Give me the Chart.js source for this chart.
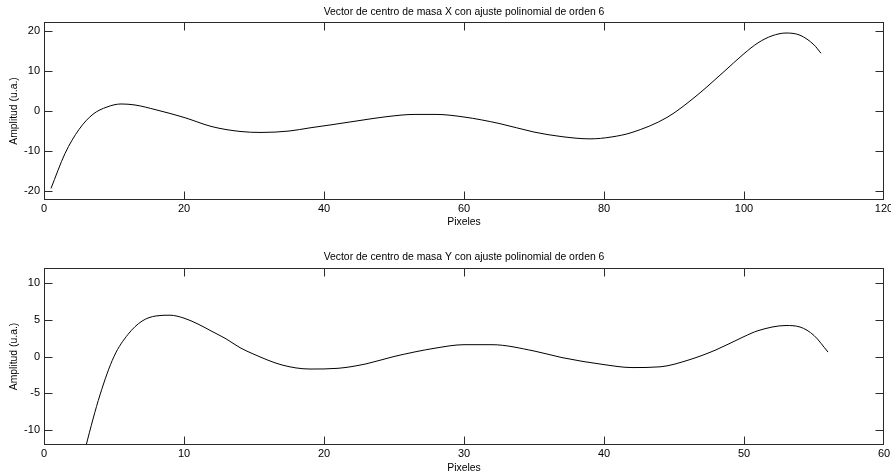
<!DOCTYPE html>
<html>
<head>
<meta charset="utf-8">
<script src="https://cdn.jsdelivr.net/npm/chart.js@4/dist/chart.umd.min.js"></script>
<style>
  html, body { margin: 0; padding: 0; background: #fff; }
  #wrap { position: relative; width: 891px; height: 474px; }
  .pane { position: absolute; left: 0; width: 891px; height: 237px; }
</style>
</head>
<body>
<div id="wrap">
  <div class="pane" style="top:0"><canvas id="chartX" width="891" height="237"></canvas></div>
  <div class="pane" style="top:237px"><canvas id="chartY" width="891" height="237"></canvas></div>
</div>
<script>
// Centre-of-mass vector X, 6th order polynomial fit
const pixelX = [1, 3, 5, 7, 9, 11, 13, 16, 20, 24, 28, 31, 35, 38, 41, 45, 49, 53, 56, 60,
                65, 70, 74, 78, 81, 84, 89, 93, 97, 100, 102, 104, 106, 108, 110, 111];
const amplitudeX = [-19.3, -10.6, -4.6, -0.8, 1.0, 1.75, 1.5, 0.3, -1.6, -3.9, -5.1, -5.35, -5.0, -4.2, -3.45, -2.4, -1.4, -0.85, -0.85, -1.5,
                    -3.1, -5.25, -6.4, -6.95, -6.5, -5.35, -1.6, 3.5, 9.6, 14.3, 17.0, 18.75, 19.45, 18.9, 16.5, 14.4];

// Centre-of-mass vector Y, 6th order polynomial fit
const pixelY = [2, 3, 4, 5, 6, 7, 8, 9, 10, 11, 12, 13, 14, 15, 17, 19, 21, 23, 25, 28,
                30, 32, 35, 37, 40, 42, 44, 46, 48, 50, 51, 53, 54, 55, 56];
const amplitudeY = [-20, -12.1, -5.2, 0, 3.0, 4.8, 5.5, 5.6, 5.2, 4.4, 3.4, 2.4, 1.2, 0.3, -1.15, -1.7, -1.6, -1.0, 0.0, 1.15,
                    1.6, 1.6, 0.75, -0.15, -1.1, -1.5, -1.4, -0.5, 0.9, 2.7, 3.5, 4.2, 4.0, 2.85, 0.6];

const xTicksX = [0, 20, 40, 60, 80, 100, 120];
const yTicksX = [-20, -10, 0, 10, 20];
const xTicksY = [0, 10, 20, 30, 40, 50, 60];
const yTicksY = [-10, -5, 0, 5, 10];

const titleX = 'Vector de centro de masa X con ajuste polinomial de orden 6';
const titleY = 'Vector de centro de masa Y con ajuste polinomial de orden 6';
const xAxisTitle = 'Pixeles';
const yAxisTitle = 'Amplitud (u.a.)';

const FONT = '"Liberation Sans", Arial, sans-serif';

// Box frame with inward ticks on all four sides, plus titles
const boxAxes = {
  id: 'boxAxes',
  afterDraw(chart, args, opts) {
    const { ctx, chartArea: a, scales: { x, y } } = chart;
    const L = Math.round(a.left) + 0.5, R = Math.round(a.right) - 0.5;
    const T = Math.round(a.top) + 0.5, B = Math.round(a.bottom) - 0.5;
    const tl = 8;
    ctx.save();
    ctx.strokeStyle = '#2a2a2a';
    ctx.lineWidth = 1;
    ctx.strokeRect(L, T, R - L, B - T);
    ctx.beginPath();
    x.ticks.forEach(t => {
      const px = Math.min(R, Math.max(L, Math.round(x.getPixelForValue(t.value)) + 0.5));
      ctx.moveTo(px, B); ctx.lineTo(px, B - tl);
      ctx.moveTo(px, T); ctx.lineTo(px, T + tl);
    });
    y.ticks.forEach(t => {
      const py = Math.min(B, Math.max(T, Math.round(y.getPixelForValue(t.value)) + 0.5));
      ctx.moveTo(L, py); ctx.lineTo(L + tl, py);
      ctx.moveTo(R, py); ctx.lineTo(R - tl, py);
    });
    ctx.stroke();

    ctx.fillStyle = '#000';
    ctx.font = '10.4px ' + FONT;
    ctx.textAlign = 'center';
    ctx.textBaseline = 'middle';
    const cx = (a.left + a.right) / 2;
    const cy = (a.top + a.bottom) / 2;
    ctx.fillText(opts.title, cx, a.top - opts.titleGap);
    ctx.fillText(opts.xTitle, cx, a.bottom + opts.xTitleGap);
    ctx.translate(14, cy);
    ctx.rotate(-Math.PI / 2);
    ctx.fillText(opts.yTitle, 0, 0);
    ctx.restore();
  }
};

function makeChart(id, xs, ys, xTicks, yTicks, xMax, yLim, top, xAxisHeight, title, titleGap, xTitleGap) {
  const points = xs.map((v, i) => ({ x: v, y: ys[i] }));
  return new Chart(document.getElementById(id), {
    type: 'line',
    data: {
      datasets: [{
        data: points,
        borderColor: '#000',
        borderWidth: 1,
        pointRadius: 0,
        fill: false,
        cubicInterpolationMode: 'monotone'
      }]
    },
    options: {
      responsive: false,
      animation: false,
      events: [],
      layout: { padding: { left: 0, right: 7, top: top, bottom: 0 } },
      plugins: {
        legend: { display: false },
        tooltip: { enabled: false },
        boxAxes: { title: title, xTitle: xAxisTitle, yTitle: yAxisTitle, titleGap: titleGap, xTitleGap: xTitleGap }
      },
      scales: {
        x: {
          type: 'linear',
          min: 0,
          max: xMax,
          grid: { display: false, drawTicks: false },
          border: { display: false },
          ticks: { color: '#000', font: { family: FONT, size: 11 }, padding: 2, maxRotation: 0, autoSkip: false },
          afterBuildTicks: s => { s.ticks = xTicks.map(v => ({ value: v })); },
          afterFit: s => { s.height = xAxisHeight; s.paddingLeft = 0; s.paddingRight = 0; }
        },
        y: {
          type: 'linear',
          min: -yLim,
          max: yLim,
          grid: { display: false, drawTicks: false },
          border: { display: false },
          ticks: { color: '#000', font: { family: FONT, size: 11 }, padding: 4, autoSkip: false },
          afterBuildTicks: s => { s.ticks = yTicks.map(v => ({ value: v })); },
          afterFit: s => { s.width = 44; s.paddingTop = 0; s.paddingBottom = 0; }
        }
      }
    },
    plugins: [boxAxes]
  });
}

makeChart('chartX', pixelX, amplitudeX, xTicksX, yTicksX, 120, 22.2, 22, 37, titleX, 10.3, 22);
makeChart('chartY', pixelY, amplitudeY, xTicksY, yTicksY, 60, 12, 31, 29, titleY, 11.3, 22.7);
</script>
</body>
</html>
